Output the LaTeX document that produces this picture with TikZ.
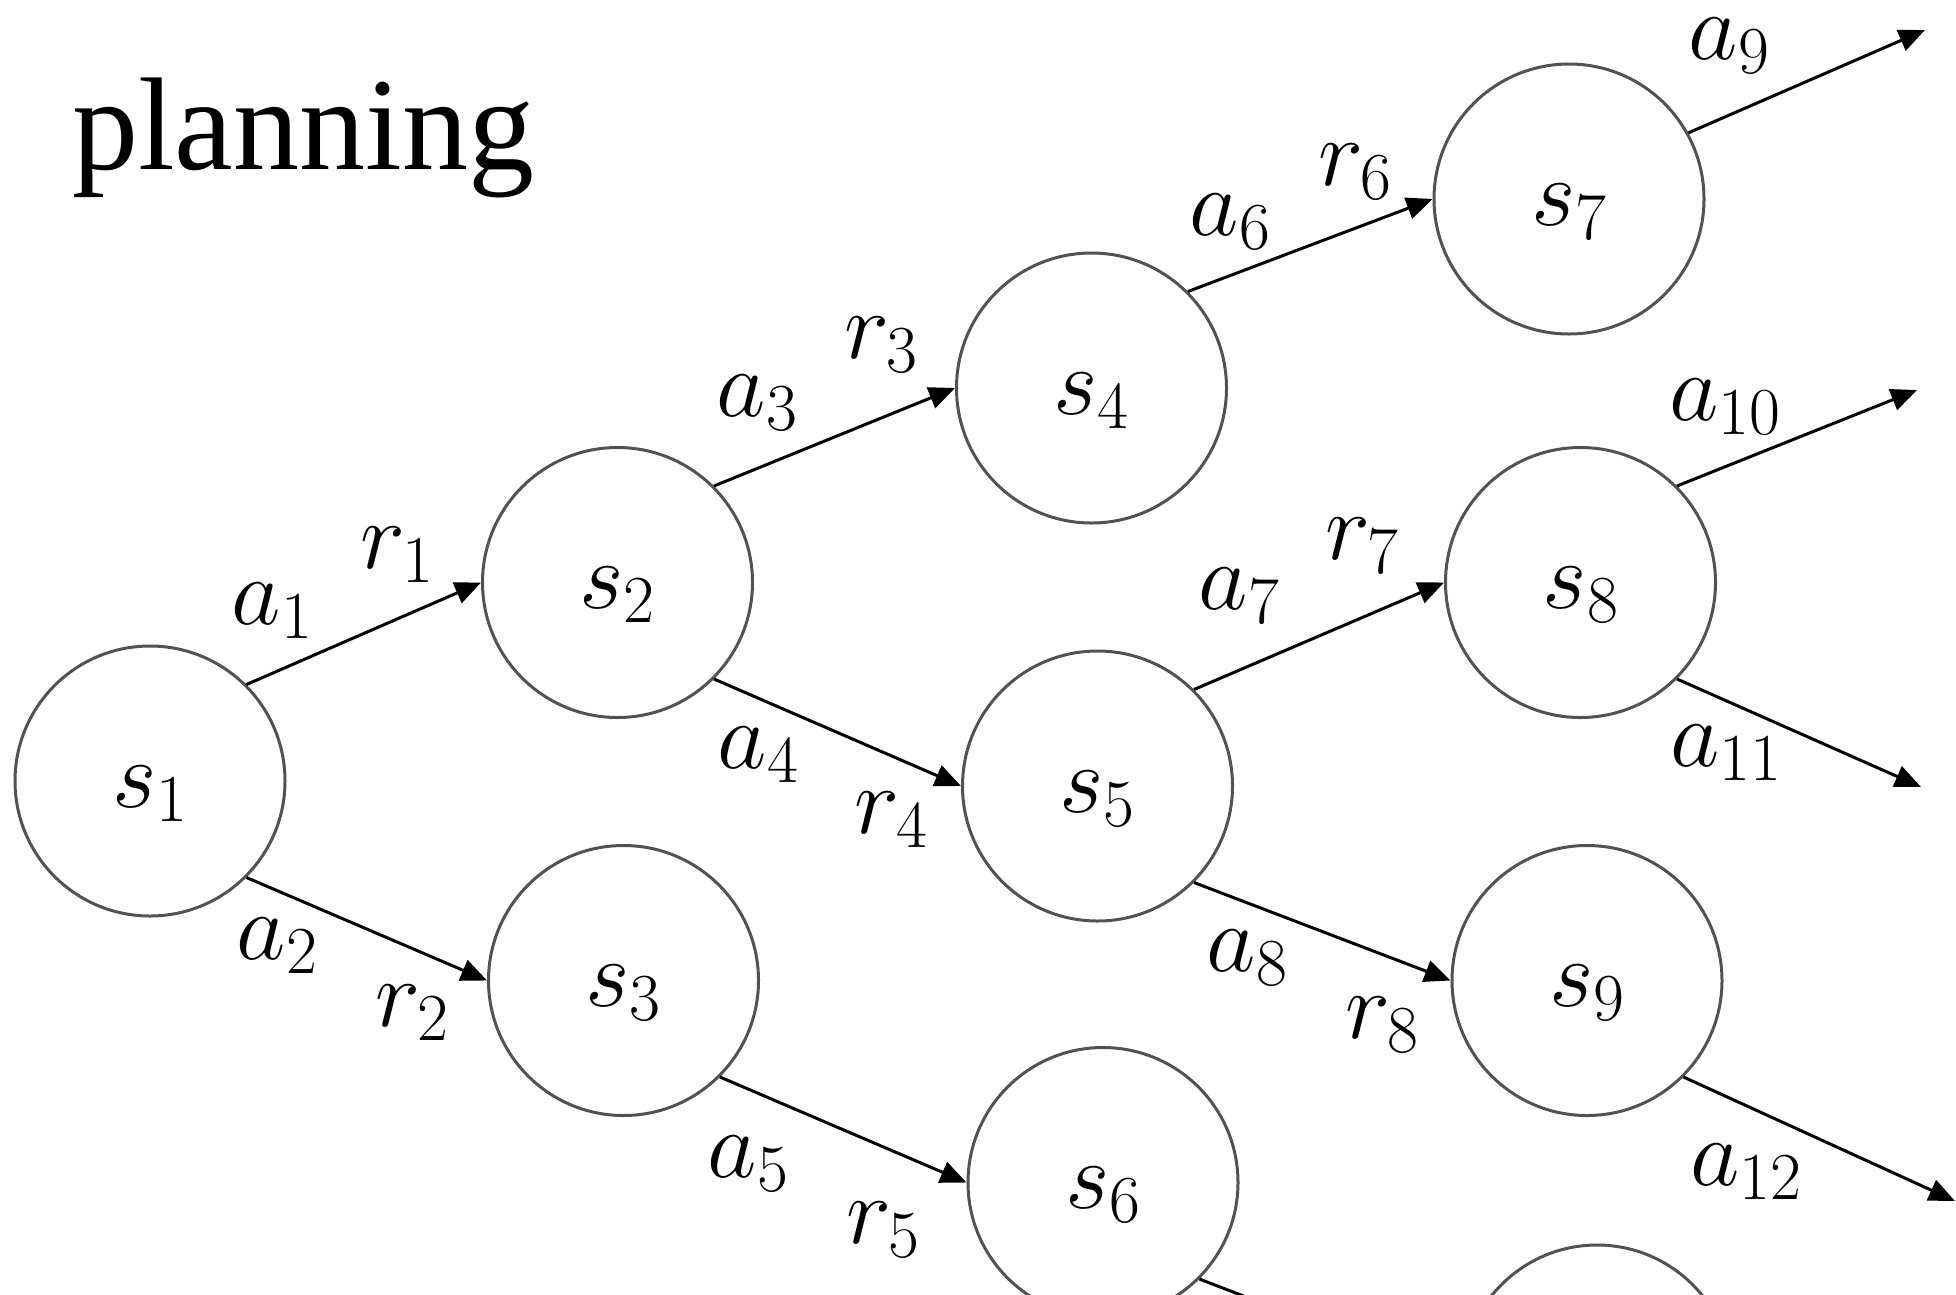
\RequirePackage{fix-cm}
\documentclass[tikz,border=0pt]{standalone}
\usepackage{fontspec}
\newfontfamily\titlefont{Liberation Serif}
\usetikzlibrary{arrows.meta}
\newcommand\stlab[1]{\raisebox{-26pt}[0pt][0pt]{$s_{#1}$}}
\begin{document}
\begin{tikzpicture}[x=1pt,y=-1pt,
  st/.style={circle,draw=black!68,line width=3pt,minimum size=270pt,inner sep=0pt,font=\fontsize{96}{96}\selectfont},
  arr/.style={line width=3pt,-{Triangle[length=26pt,width=22pt]}},
  lab/.style={font=\fontsize{96}{96}\selectfont,inner sep=0pt}]
\useasboundingbox (0,0) rectangle (1956,1294);
\clip (0,0) rectangle (1956,1294);
\node[font=\titlefont\fontsize{132}{132}\selectfont,inner sep=0pt] (title) at (303,138) {planning};
\node[st] (s1) at (150,781) {\stlab{1}};
\node[st] (s2) at (617.5,582.5) {\stlab{2}};
\node[st] (s3) at (623.5,980.5) {\stlab{3}};
\node[st] (s4) at (1091.5,388) {\stlab{4}};
\node[st] (s5) at (1097.5,786) {\stlab{5}};
\node[st] (s6) at (1103,1182.5) {\stlab{6}};
\node[st] (s7) at (1569,199) {\stlab{7}};
\node[st] (s8) at (1580.5,582.5) {\stlab{8}};
\node[st] (s9) at (1587,980.5) {\stlab{9}};
\node[st] (s10) at (1597,1380) {};
\coordinate (e9) at (1925,30);
\coordinate (e10) at (1917,390);
\coordinate (e11) at (1921,787);
\coordinate (e12) at (1955,1201);
\draw[arr] (s1.north east) -- (s2.west);
\draw[arr] (s1.south east) -- (s3.west);
\draw[arr] (s2.north east) -- (s4.west);
\draw[arr] (s2.south east) -- (s5.west);
\draw[arr] (s3.south east) -- (s6.west);
\draw[arr] (s4.north east) -- (s7.west);
\draw[arr] (s5.north east) -- (s8.west);
\draw[arr] (s5.south east) -- (s9.west);
\draw[arr] (s6.south east) -- (s10.west);
\draw[arr] (s7.29) -- (e9);
\draw[arr] (s8.north east) -- (e10);
\draw[arr] (s8.south east) -- (e11);
\draw[arr] (s9.south east) -- (e12);
\node[lab] (la1) at (272,611) {$a_1$};
\node[lab] (lr1) at (397,555) {$r_1$};
\node[lab] (la2) at (277,946) {$a_2$};
\node[lab] (lr2) at (412,1013) {$r_2$};
\node[lab] (la3) at (757,403) {$a_3$};
\node[lab] (lr3) at (881,345) {$r_3$};
\node[lab] (la4) at (758,755) {$a_4$};
\node[lab] (lr4) at (891,820) {$r_4$};
\node[lab] (la5) at (748,1164) {$a_5$};
\node[lab] (lr5) at (883,1230) {$r_5$};
\node[lab] (la6) at (1230,222) {$a_6$};
\node[lab] (lr6) at (1355,172) {$r_6$};
\node[lab] (la7) at (1239,596) {$a_7$};
\node[lab] (lr7) at (1362,546) {$r_7$};
\node[lab] (la8) at (1247,958) {$a_8$};
\node[lab] (lr8) at (1382,1025) {$r_8$};
\node[lab] (la9) at (1729,46) {$a_9$};
\node[lab] (la10) at (1725,407) {$a_{10}$};
\node[lab] (la11) at (1726,753) {$a_{11}$};
\node[lab] (la12) at (1746,1172) {$a_{12}$};
\end{tikzpicture}
\end{document}
